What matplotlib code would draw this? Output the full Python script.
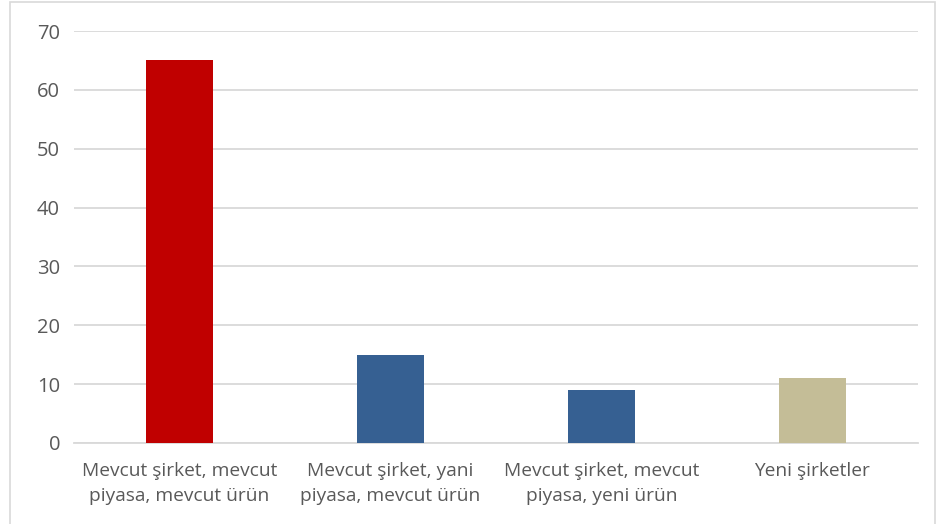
import matplotlib
matplotlib.use('Agg')
import matplotlib.pyplot as plt
from matplotlib.patches import Rectangle

categories = ['Mevcut şirket, mevcut\npiyasa, mevcut ürün',
              'Mevcut şirket, yani\npiyasa, mevcut ürün',
              'Mevcut şirket, mevcut\npiyasa, yeni ürün',
              'Yeni şirketler']
values = [65, 15, 9, 11]
colors = ['#C00000', '#366092', '#366092', '#C4BD97']
yticks = [0, 10, 20, 30, 40, 50, 60, 70]

plt.rcParams['font.family'] = ['Open Sans', 'DejaVu Sans']
text_color = '#595959'

fig = plt.figure(figsize=(9.39, 5.24), dpi=100)
ax = fig.add_axes([74/939, 81/524, 844/939, 412/524])

x = list(range(len(categories)))
ax.bar(x, values, width=0.32, color=colors, zorder=3)

ax.set_xlim(-0.5, len(categories) - 0.5)
ax.set_ylim(0, 70)
ax.set_yticks(yticks)
ax.set_xticks(x)
ax.set_xticklabels(categories, fontsize=13.8, color=text_color, linespacing=1.45)
ax.tick_params(axis='y', labelsize=14.5, labelcolor=text_color, length=0, pad=10)
ax.tick_params(axis='x', length=0, pad=14)
ax.grid(axis='y', color='#D9D9D9', linewidth=1.3, zorder=0)
for s in ['top', 'right', 'left']:
    ax.spines[s].set_visible(False)
ax.spines['bottom'].set_color('#D9D9D9')
ax.spines['bottom'].set_linewidth(1.3)

# chart area border
fig.patches.append(Rectangle((10/939, -0.01), 925/939, 1 - 2/524 + 0.01,
                             transform=fig.transFigure, fill=False,
                             edgecolor='#D9D9D9', linewidth=1.2))

fig.savefig('out.png', dpi=100)
